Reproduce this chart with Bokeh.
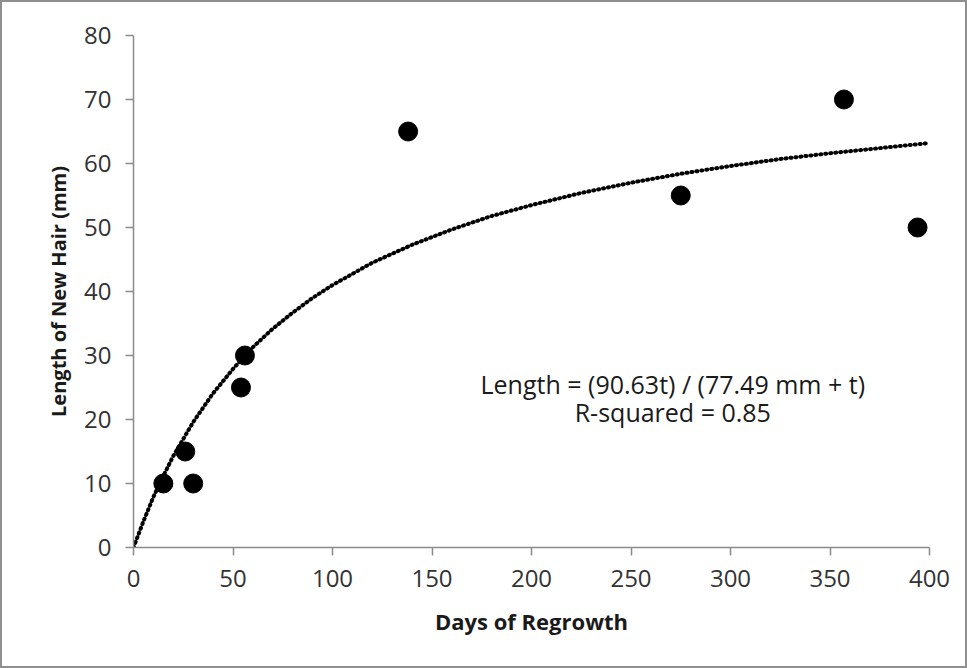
from bokeh.plotting import figure
from bokeh.models import Range1d, FixedTicker, Label, ColumnDataSource
from bokeh.embed import file_html
from bokeh.resources import INLINE

# Observed data
days = [15, 26, 30, 54, 56, 138, 275, 357, 394]
hair_length = [10, 15, 10, 25, 30, 65, 55, 70, 50]

# Fitted trend curve
curve_days = [0, 5, 10, 15, 20, 30, 40, 50, 60, 70, 80, 90, 100, 120, 140, 160,
              180, 200, 225, 250, 275, 300, 325, 350, 375, 400]
curve_length = [0, 4.1, 7.9, 11.2, 14.3, 19.6, 24.1, 27.9, 31.3, 34.2, 36.7, 39.0,
                41.0, 44.5, 47.3, 49.7, 51.8, 53.5, 55.4, 57.0, 58.4, 59.6, 60.7,
                61.6, 62.4, 63.2]

x_ticks = [0, 50, 100, 150, 200, 250, 300, 350, 400]
y_ticks = [0, 10, 20, 30, 40, 50, 60, 70, 80]

FONT = "Open Sans"

p = figure(width=967, height=668, output_backend="svg", toolbar_location=None,
           x_range=Range1d(0, 400), y_range=Range1d(0, 80),
           min_border_left=131, min_border_right=40, min_border_top=33,
           min_border_bottom=123)
p.styles = {"border": "2px solid #8f8f8f", "box-sizing": "border-box"}
p.background_fill_color = "white"
p.border_fill_color = "white"
p.outline_line_color = None
p.grid.visible = False

for ax in (p.xaxis[0], p.yaxis[0]):
    ax.axis_line_color = "#8c8c8c"
    ax.axis_line_width = 1.5
    ax.major_tick_line_color = "#8c8c8c"
    ax.major_tick_line_width = 1.5
    ax.major_tick_out = 8
    ax.major_tick_in = 0
    ax.minor_tick_line_color = None
    ax.major_label_text_font = FONT
    ax.major_label_text_font_size = "24px"
    ax.major_label_text_color = "#333333"
    ax.axis_label_text_font = FONT
    ax.axis_label_text_font_style = "bold"
    ax.axis_label_text_color = "#1a1a1a"

p.xaxis.axis_label_text_font_size = "22px"
p.yaxis.axis_label_text_font_size = "20px"
p.xaxis.ticker = FixedTicker(ticks=x_ticks)
p.yaxis.ticker = FixedTicker(ticks=y_ticks)
p.xaxis.axis_label = "Days of Regrowth"
p.yaxis.axis_label = "Length of New Hair (mm)"
p.xaxis.major_label_standoff = 14
p.yaxis.major_label_standoff = 14
p.xaxis.axis_label_standoff = 16
p.yaxis.axis_label_standoff = 9

curve_src = ColumnDataSource(data=dict(x=curve_days, y=curve_length))
p.line("x", "y", source=curve_src, line_color="black", line_width=4,
       line_dash="1 4", line_cap="round")

pts = ColumnDataSource(data=dict(x=days, y=hair_length))
p.scatter("x", "y", source=pts, size=19, color="black", marker="circle")

lab1 = Label(x=271, y=25.5, text="Length = (90.63t) / (77.49 mm + t)",
             text_align="center", text_baseline="middle", text_font=FONT,
             text_font_size="25px", text_color="#1a1a1a")
lab2 = Label(x=271, y=21.1, text="R-squared = 0.85",
             text_align="center", text_baseline="middle", text_font=FONT,
             text_font_size="25px", text_color="#1a1a1a")
p.add_layout(lab1)
p.add_layout(lab2)

open("out.html", "w").write(file_html(p, INLINE))
